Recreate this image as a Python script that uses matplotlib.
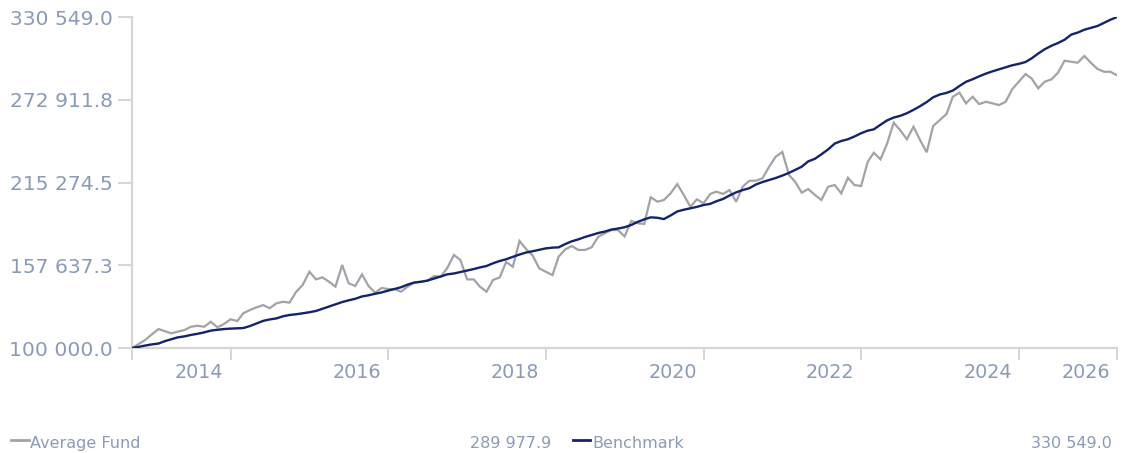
import numpy as np
import pandas as pd
import matplotlib
matplotlib.use("Agg")
import matplotlib.pyplot as plt
from matplotlib.lines import Line2D
from matplotlib.transforms import ScaledTranslation

# ---------------- data ----------------
start_date = "2013-10-01"
n_months = 151

fund = [100000, 102800, 105600, 109500, 113200, 111800, 110200, 111400, 112500, 114800,
        115500, 114800, 118300, 114400, 116700, 120000, 118800, 124200, 126500, 128300,
        129900, 127700, 131100, 132200, 131600, 139200, 143900, 153100, 147800, 149200,
        146200, 142700, 157800, 145100, 143200, 151300, 143200, 138500, 141800, 141100,
        140900, 139200, 142800, 145500, 146300, 147000, 150100, 149700, 155700, 164800,
        161300, 147800, 147800, 142800, 139200, 147400, 149100, 159900, 156600, 174500,
        169000, 164400, 155500, 153100, 150800, 163600, 168700, 171000, 168300, 168300,
        170100, 177500, 179900, 182200, 182200, 177700, 188500, 186900, 186400, 205000,
        201900, 203100, 207700, 214200, 206600, 198400, 203600, 200800, 207300, 208900,
        207300, 210000, 201900, 212300, 216500, 216500, 218200, 226300, 233200, 236500,
        220500, 215800, 208200, 210700, 206600, 203100, 212300, 213500, 207700, 218600,
        213500, 212800, 229800, 236000, 231400, 242100, 256900, 251800, 245400, 254100,
        244900, 236300, 254600, 258800, 263000, 275000, 277800, 270400, 275000, 269900,
        271500, 270400, 269200, 271500, 280200, 285500, 290800, 287800, 280900, 285500,
        287100, 291700, 300100, 299400, 298700, 303400, 298700, 294300, 292400, 292400,
        289977.9]

bench = [100000, 100800, 101700, 102500, 103100, 104700, 106100, 107400, 108100, 109100,
         109900, 110900, 112100, 112700, 113200, 113500, 113700, 113900, 115300, 117100,
         118900, 119900, 120600, 122100, 123000, 123500, 124200, 124900, 125800, 127300,
         128900, 130400, 132000, 133200, 134300, 135900, 136700, 137800, 138700, 140000,
         141200, 142300, 144200, 145600, 146100, 146900, 148400, 149800, 151300, 151900,
         152900, 154000, 155000, 156100, 157100, 159000, 160600, 161800, 163500, 165100,
         166500, 167400, 168400, 169400, 169900, 170100, 172400, 174300, 175700, 177300,
         178700, 180100, 181100, 182500, 183200, 184100, 185700, 187800, 189600, 191000,
         190700, 189800, 192300, 195100, 196300, 197300, 198300, 199600, 200400, 202200,
         203800, 206200, 208400, 210000, 211300, 213900, 215600, 217000, 218400, 220100,
         222000, 224000, 226300, 230000, 231800, 234900, 238300, 242400, 244200, 245400,
         247300, 249600, 251400, 252300, 255500, 258500, 260500, 261700, 263500, 265900,
         268400, 271300, 274600, 276600, 277700, 279300, 282500, 285400, 287200, 289200,
         291100, 292700, 294100, 295600, 296900, 297900, 299200, 301700, 305100, 308100,
         310500, 312400, 314700, 318300, 319700, 321700, 323000, 324300, 326600, 328600,
         330549.0]

series_names = ["Average Fund", "Benchmark"]
year_tick_dates = ["2015-01-01", "2017-01-01", "2019-01-01", "2021-01-01",
                   "2023-01-01", "2025-01-01"]
year_tick_labels = ["2014", "2016", "2018", "2020", "2022", "2024"]
end_label = "2026"

# ---------------- styling ----------------
GRAY = "#a2a2a8"
NAVY = "#14246a"
TXT = "#8a9bb6"
AX = "#d6d6d6"

plt.rcParams["font.family"] = ["DejaVu Sans"]

W, H = 1125, 453
fig = plt.figure(figsize=(W / 100, H / 100), dpi=100)
ax = fig.add_axes([132 / W, (H - 348) / H, 985 / W, 331 / H])

dates = pd.date_range(start_date, periods=n_months, freq="MS")

ax.plot(dates, fund, color=GRAY, lw=1.6, solid_joinstyle="miter", zorder=2)
ax.plot(dates, bench, color=NAVY, lw=1.7, zorder=3)

ymin = fund[0]
ymax = max(max(fund), max(bench))
ax.set_ylim(ymin, ymax)
ax.set_xlim(dates[0], dates[-1])

def fmt(v):
    v = np.floor(v * 10 + 0.5) / 10
    return f"{v:,.1f}".replace(",", " ")

yt = np.linspace(ymin, ymax, 5)
ax.set_yticks(yt, [fmt(v) for v in yt])

xt = [dates[0]] + [pd.Timestamp(d) for d in year_tick_dates] + [dates[-1]]
xl = [""] + year_tick_labels + [end_label]
ax.set_xticks(xt, xl)

for s in ["top", "right"]:
    ax.spines[s].set_visible(False)
for s in ["left", "bottom"]:
    ax.spines[s].set_color(AX)
    ax.spines[s].set_linewidth(1.6)
    ax.spines[s].set_zorder(1)

ax.tick_params(axis="y", length=10, width=1.4, color=AX, labelcolor=TXT,
               labelsize=14.6, pad=4)
ax.tick_params(axis="x", length=8.6, width=1.4, color=AX, labelcolor=TXT,
               labelsize=13.8, pad=2)

off = ScaledTranslation(-5 / 72, 0, fig.dpi_scale_trans)
for lab in ax.get_xticklabels():
    lab.set_horizontalalignment("right")
    lab.set_transform(lab.get_transform() + off)

# ---------------- legend ----------------
LFS = 11.5
ly = 1 - 443.5 / H
fig.add_artist(Line2D([10.5 / W, 28.5 / W], [1 - 440 / H] * 2,
                      transform=fig.transFigure, color=GRAY, lw=2))
fig.text(30 / W, ly, series_names[0], color=TXT, fontsize=LFS,
         ha="left", va="center")
fig.text(551 / W, ly, fmt(fund[-1]), color=TXT, fontsize=LFS,
         ha="right", va="center")
fig.add_artist(Line2D([573 / W, 590 / W], [1 - 440 / H] * 2,
                      transform=fig.transFigure, color=NAVY, lw=2))
fig.text(592 / W, ly, series_names[1], color=TXT, fontsize=LFS,
         ha="left", va="center")
fig.text(1112 / W, ly, fmt(bench[-1]), color=TXT, fontsize=LFS,
         ha="right", va="center")

fig.savefig("out.png", dpi=100)
